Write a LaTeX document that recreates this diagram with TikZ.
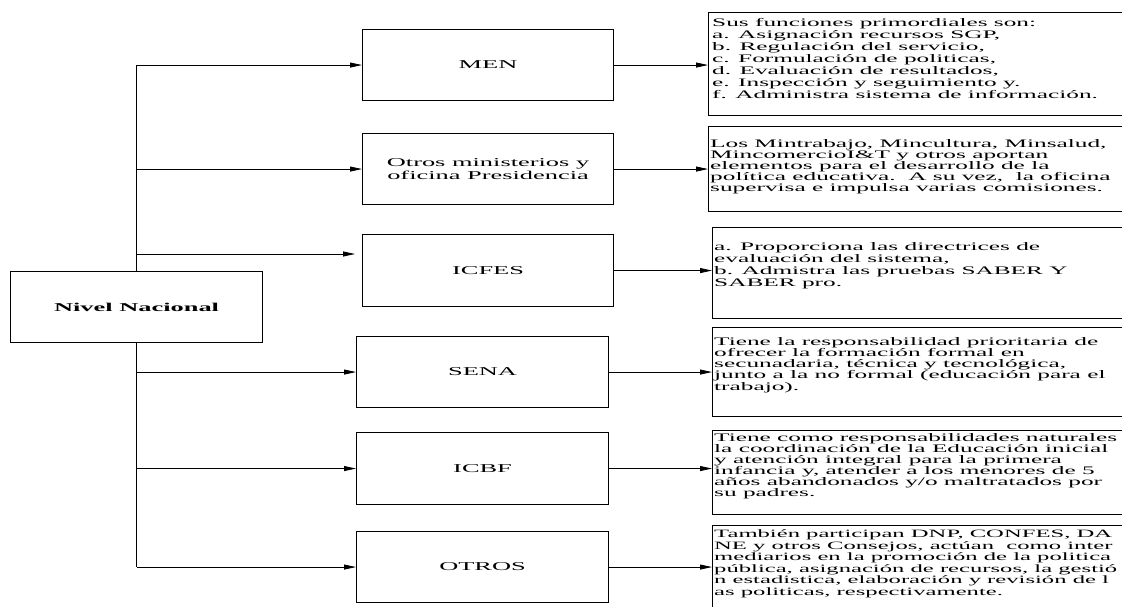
\documentclass[tikz,border=0pt]{standalone}
\usepackage{fontspec}
\setmainfont{Liberation Serif}[FakeStretch=2.2]
\usetikzlibrary{arrows.meta,calc}
\begin{document}
\begin{tikzpicture}[x=1pt,y=-1pt,
  box/.style={draw=black, line width=1.1pt, anchor=north west, inner sep=0pt},
  midbox/.style={box, font=\fontsize{12}{13}\selectfont, align=center},
  rbox/.style={draw=black, line width=1.1pt, anchor=north west, minimum width=440pt, inner sep=0pt},
  rtext/.style={anchor=north west, inner sep=0pt, align=left},
  conn/.style={line width=0.8pt, -{Triangle[length=12pt,width=5pt]}},
  trunk/.style={line width=1.4pt}]
\clip (0,0) rectangle (1122,607);
\fill[white] (0,0) rectangle (1122,607);
% left node
\node[box, minimum width=252pt, minimum height=71pt, font=\bfseries\fontsize{12}{13}\selectfont] (nivel) at (10,271) {Nivel Nacional};
% middle nodes
\node[midbox, minimum width=251pt, minimum height=71pt] (men) at (362,29) {MEN};
\node[midbox, minimum width=251pt, minimum height=71pt] (otros) at (362,133) {Otros ministerios y\\oficina Presidencia};
\node[midbox, minimum width=251pt, minimum height=72pt] (icfes) at (362,234) {ICFES};
\node[midbox, minimum width=252pt, minimum height=71pt] (sena) at (356,336) {SENA};
\node[midbox, minimum width=252pt, minimum height=72pt] (icbf) at (356,432) {ICBF};
\node[midbox, minimum width=252pt, minimum height=71pt] (otr) at (356,531) {OTROS};
\coordinate (icfesin) at ($(icfes.north west)+(0,20)$);
% right boxes
\node[rbox, minimum height=103pt] (r1) at (708,12) {};
\node[rbox, minimum height=85pt] (r2) at (708,126) {};
\node[rbox, minimum height=91pt] (r3) at (712,227) {};
\node[rbox, minimum height=89pt] (r4) at (712,327) {};
\node[rbox, minimum height=84pt] (r5) at (712,430) {};
\node[rbox, minimum height=90pt] (r6) at (712,525) {};
% right texts
\node[rtext, font=\fontsize{11.5}{12}\selectfont] (t1) at (712,18) {Sus funciones primordiales son:\\
a. Asignación recursos SGP,\\
b. Regulación del servicio,\\
c. Formulación de politicas,\\
d. Evaluación de resultados,\\
e. Inspección y seguimiento y.\\
f. Administra sistema de información.};
\node[rtext, font=\fontsize{11.5}{11.2}\selectfont] (t2) at (710,139) {Los Mintrabajo, Mincultura, Minsalud,\\
MincomercioI\&T y otros aportan\\
elementos para el desarrollo de la\\
política educativa.\ \ A su vez,\ \ la oficina\\
supervisa e impulsa varias comisiones.};
\node[rtext, font=\fontsize{11.5}{12}\selectfont] (t3) at (714,242) {a. Proporciona las directrices de\\
evaluación del sistema,\\
b. Admistra las pruebas SABER Y\\
SABER pro.};
\node[rtext, font=\fontsize{11.5}{11.25}\selectfont] (t4) at (714,337) {Tiene la responsabilidad prioritaria de\\
ofrecer la formación formal en\\
secunadaria, técnica y tecnológica,\\
junto a la no formal (educación para el\\
trabajo).};
\node[rtext, font=\fontsize{11.5}{11}\selectfont] (t5) at (714,433) {Tiene como responsabilidades naturales\\
la coordinación de la Educación inicial\\
y atención integral para la primera\\
infancia y, atender a los menores de 5\\
años abandonados y/o maltratados por\\
su padres.};
\node[rtext, font=\fontsize{11.2}{11.5}\selectfont] (t6) at (714,530) {También participan DNP, CONFES, DA\\
NE y otros Consejos, actúan\ \ como inter\\
mediarios en la promoción de la politica\\
pública, asignación de recursos, la gestió\\
n estadistica, elaboración y revisión de l\\
as politicas, respectivamente.};
% trunk
\draw[trunk] (nivel.north) -- (nivel.north |- men.west);
\draw[trunk] (nivel.south) -- (nivel.south |- otr.west);
% branches
\draw[conn] (nivel.north |- men.west) -- (men.west);
\draw[conn] (nivel.north |- otros.west) -- (otros.west);
\draw[conn, shorten >=7pt] (nivel.north |- icfesin) -- (icfesin);
\draw[conn] (nivel.south |- sena.west) -- (sena.west);
\draw[conn] (nivel.south |- icbf.west) -- (icbf.west);
\draw[conn] (nivel.south |- otr.west) -- (otr.west);
% to descriptions
\draw[conn] (men.east) -- (men.east -| r1.west);
\draw[conn] (otros.east) -- (otros.east -| r2.west);
\draw[conn] (icfes.east) -- (icfes.east -| r3.west);
\draw[conn] (sena.east) -- (sena.east -| r4.west);
\draw[conn] (icbf.east) -- (icbf.east -| r5.west);
\draw[conn] (otr.east) -- (otr.east -| r6.west);
\end{tikzpicture}
\end{document}
